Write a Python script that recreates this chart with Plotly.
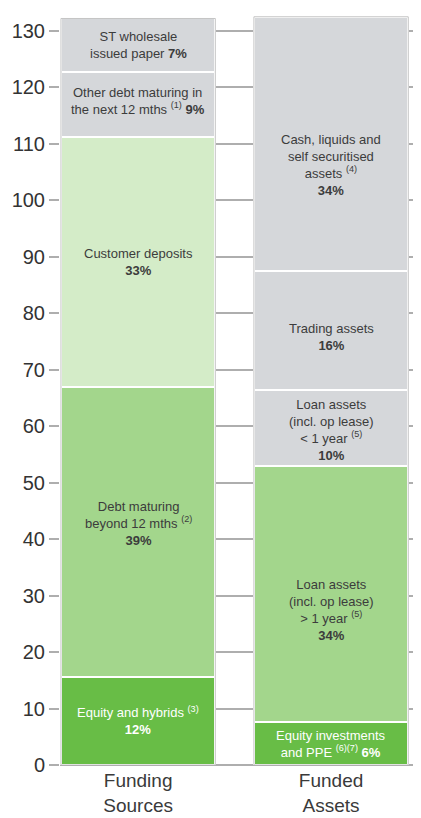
import plotly.graph_objects as go

# bar positions / names
bars = ["Funding<br>Sources", "Funded<br>Assets"]

# Funding sources, bottom to top ($bn)
funding_labels = [
    "Equity and hybrids <sup>(3)</sup><br><b>12%</b>",
    "Debt maturing<br>beyond 12 mths <sup>(2)</sup><br><b>39%</b>",
    "Customer deposits<br><b>33%</b>",
    "Other debt maturing in<br>the next 12 mths <sup>(1)</sup> <b>9%</b>",
    "ST wholesale<br>issued paper <b>7%</b>",
]
funding_values = [15.6, 51.3, 44.3, 11.6, 9.4]
funding_colors = ["#68bd46", "#a3d68c", "#d4ecc8", "#d5d7da", "#d5d7da"]
funding_shift = [0, 9, 0, 3, 0]

# Funded assets, bottom to top ($bn)
funded_labels = [
    "Equity investments<br>and PPE <sup>(6)(7)</sup> <b>6%</b>",
    "Loan assets<br>(incl. op lease)<br>&gt; 1 year <sup>(5)</sup><br><b>34%</b>",
    "Loan assets<br>(incl. op lease)<br>&lt; 1 year <sup>(5)</sup><br><b>10%</b>",
    "Trading assets<br><b>16%</b>",
    "Cash, liquids and<br>self securitised<br>assets <sup>(4)</sup><br><b>34%</b>",
]
funded_values = [7.6, 45.4, 13.4, 21.1, 45.0]
funded_colors = ["#68bd46", "#a3d68c", "#d5d7da", "#d5d7da", "#d5d7da"]
funded_shift = [0, -16, -2, -7, -21]

label_font = dict(family="Liberation Sans, Arial", size=13, color="#3c3c3c")

fig = go.Figure()
annotations = []
shapes = []

for xi, (labels, values, colors, shifts) in enumerate([
        (funding_labels, funding_values, funding_colors, funding_shift),
        (funded_labels, funded_values, funded_colors, funded_shift)]):
    base = 0
    for lab, v, c, s in zip(labels, values, colors, shifts):
        fig.add_trace(go.Bar(
            x=[xi], y=[v], width=0.8,
            marker=dict(color=c, line=dict(color="white", width=2)),
            showlegend=False, hoverinfo="skip"))
        dark = c == "#68bd46"
        annotations.append(dict(
            x=xi, y=base + v / 2, text=lab, showarrow=False, yshift=s,
            font=dict(label_font, color="white" if dark else "#3c3c3c")))
        base += v
    # outline round each bar
    shapes.append(dict(type="rect", xref="x", yref="y",
                       x0=xi - 0.4, x1=xi + 0.4, y0=0, y1=base,
                       line=dict(color="#c4c4c4", width=1), layer="above"))

# page body has an 8px margin, so the figure is a bit smaller than the window
fig.update_layout(
    barmode="stack",
    width=413, height=810,
    margin=dict(l=52, r=0, t=2, b=53),
    paper_bgcolor="white", plot_bgcolor="white",
    annotations=annotations, shapes=shapes,
    font=dict(family="Liberation Sans, Arial", color="#333333"),
)
fig.update_xaxes(
    range=[-0.405, 1.466], tickvals=[0, 1], ticktext=bars,
    tickfont=dict(size=19, color="#3a3a3a"), showgrid=False, zeroline=False,
    showline=False, ticks="", automargin=False, ticklabelstandoff=2)
fig.update_yaxes(
    range=[0, 133.7], tickvals=list(range(0, 131, 10)),
    tickfont=dict(size=20, color="#333333"),
    showgrid=True, gridcolor="#aeaeae", gridwidth=1.5,
    ticks="outside", ticklen=10, tickcolor="#aeaeae", tickwidth=1.5,
    zeroline=True, zerolinecolor="#aeaeae", zerolinewidth=1.5,
    automargin=False)

fig.write_html("out.html")
